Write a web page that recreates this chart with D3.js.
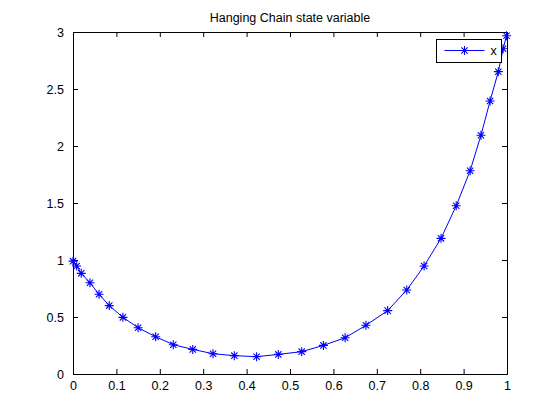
<!DOCTYPE html>
<html>
<head>
<meta charset="utf-8">
<script src="https://cdn.jsdelivr.net/npm/d3@7"></script>
<style>
  body { margin: 0; background: #fff; }
  text { font-family: "Liberation Sans", Arial, sans-serif; }
</style>
</head>
<body>
<div id="chart"></div>
<script>
// data
var xVals = [0, 0.0085, 0.019, 0.039, 0.060, 0.0836, 0.115, 0.150, 0.1905, 0.231, 0.276, 0.3226,
    0.3717, 0.423, 0.473, 0.527, 0.577, 0.627, 0.675, 0.725, 0.769, 0.809, 0.848, 0.883,
    0.915, 0.940, 0.961, 0.980, 0.991, 0.999];
var yVals = [0.99, 0.947, 0.883, 0.80, 0.70, 0.60, 0.497, 0.406, 0.327, 0.257, 0.216, 0.178,
    0.161, 0.152, 0.172, 0.196, 0.251, 0.318, 0.427, 0.556, 0.737, 0.947, 1.19, 1.476,
    1.783, 2.094, 2.395, 2.652, 2.853, 2.967];
var xTicks = [0, 0.1, 0.2, 0.3, 0.4, 0.5, 0.6, 0.7, 0.8, 0.9, 1];
var yTicks = [0, 0.5, 1, 1.5, 2, 2.5, 3];
var seriesName = "x";
var title = "Hanging Chain state variable";

// set the dimensions and margins of the graph
var W = 560, H = 420;
var margin = {top: 32, right: 53, bottom: 46, left: 73},
    width = W - margin.left - margin.right,
    height = H - margin.top - margin.bottom;

var svg = d3.select("#chart")
    .append("svg")
    .attr("width", W)
    .attr("height", H);

var g = svg.append("g")
    .attr("transform", "translate(" + margin.left + "," + margin.top + ")");

var x = d3.scaleLinear().domain([0, 1]).range([0, width]);
var y = d3.scaleLinear().domain([0, 3]).range([height, 0]);

var fmt = function (d) { return String(+d.toFixed(2)); };

// axes with inward ticks, box on all sides
var axBottom = g.append("g")
    .attr("transform", "translate(0," + height + ")")
    .call(d3.axisBottom(x).tickValues(xTicks).tickSize(-5).tickPadding(7).tickFormat(fmt));
var axTop = g.append("g")
    .call(d3.axisTop(x).tickValues(xTicks).tickSize(-5).tickFormat(""));
var axLeft = g.append("g")
    .call(d3.axisLeft(y).tickValues(yTicks).tickSize(-5).tickPadding(9).tickFormat(fmt));
var axRight = g.append("g")
    .attr("transform", "translate(" + width + ",0)")
    .call(d3.axisRight(y).tickValues(yTicks).tickSize(-5).tickFormat(""));

[axBottom, axTop, axLeft, axRight].forEach(function (a) {
    a.select(".domain").attr("stroke", "#000").attr("stroke-width", 1);
    a.selectAll(".tick line").attr("stroke", "#000");
    a.selectAll("text").attr("font-size", "12.5px").attr("fill", "#000");
});

var data = xVals.map(function (d, i) { return {x: d, y: yVals[i]}; });

var line = d3.line()
    .x(function (d) { return x(d.x); })
    .y(function (d) { return y(d.y); });

g.append("path")
    .datum(data)
    .attr("fill", "none")
    .attr("stroke", "#0000ff")
    .attr("stroke-width", 1)
    .attr("d", line);

// asterisk marker
function star(sel, r) {
    var p = "M" + (-r) + ",0H" + r + "M0," + (-r) + "V" + r;
    var k = r * 0.7;
    p += "M" + (-k) + "," + (-k) + "L" + k + "," + k + "M" + (-k) + "," + k + "L" + k + "," + (-k);
    sel.append("path").attr("d", p).attr("stroke", "#0000ff").attr("stroke-width", 1.1).attr("fill", "none");
}

g.selectAll(".mk")
    .data(data)
    .enter()
    .append("g")
    .attr("class", "mk")
    .attr("transform", function (d) { return "translate(" + x(d.x) + "," + y(d.y) + ")"; })
    .each(function () { star(d3.select(this), 4.5); });

// title
svg.append("text")
    .attr("x", margin.left + width / 2)
    .attr("y", 22)
    .attr("text-anchor", "middle")
    .attr("font-size", "12.5px")
    .text(title);

// legend
var lg = svg.append("g").attr("transform", "translate(436.5,39.5)");
lg.append("rect")
    .attr("width", 65)
    .attr("height", 23)
    .attr("fill", "#fff")
    .attr("stroke", "#000");
lg.append("line")
    .attr("x1", 8).attr("x2", 48)
    .attr("y1", 11).attr("y2", 11)
    .attr("stroke", "#0000ff");
star(lg.append("g").attr("transform", "translate(28,11)"), 4.5);
lg.append("text")
    .attr("x", 54)
    .attr("y", 15.5)
    .attr("font-size", "12.5px")
    .text(seriesName);
</script>
</body>
</html>
